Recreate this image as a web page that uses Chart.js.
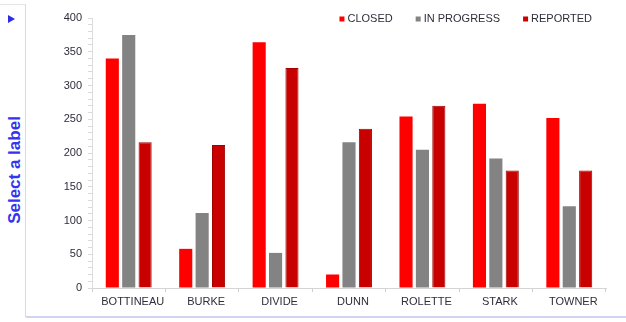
<!DOCTYPE html>
<html>
<head>
<meta charset="utf-8">
<script src="https://cdn.jsdelivr.net/npm/chart.js@4/dist/chart.umd.min.js"></script>
<style>
    html, body {
        margin: 0;
        padding: 0;
        background: #ffffff;
    }
    #wrap {
        position: relative;
        width: 626px;
        height: 322px;
        overflow: hidden;
        font-family: "Liberation Sans", Arial, sans-serif;
    }
    #side {
        position: absolute;
        left: 0;
        top: 4px;
        width: 25px;
        height: 312px;
        border-top: 1px solid #e6e6e6;
        border-right: 1px solid #d8d8e4;
    }
    #arrow {
        position: absolute;
        left: 8px;
        top: 10px;
        width: 0;
        height: 0;
        border-top: 4px solid transparent;
        border-bottom: 4px solid transparent;
        border-left: 7px solid #2b2be8;
    }
    #side-label {
        position: absolute;
        left: 15px;
        top: 165px;
        transform: translate(-50%, -50%) rotate(-90deg);
        white-space: nowrap;
        font-weight: bold;
        font-size: 17px;
        color: #3434f0;
    }
    #bottom-line {
        position: absolute;
        left: 26px;
        top: 316px;
        width: 600px;
        height: 0;
        border-top: 2px solid #d2d2f2;
    }
    #chart-box {
        position: absolute;
        left: 27px;
        top: 0;
        width: 599px;
        height: 315px;
    }
</style>
</head>
<body>
<div id="wrap">
    <div id="side">
        <div id="arrow"></div>
        <div id="side-label">Select a label</div>
    </div>
    <div id="bottom-line"></div>
    <div id="chart-box"><canvas id="statusChart" width="599" height="315"></canvas></div>
</div>
<script>
const counties = ['BOTTINEAU', 'BURKE', 'DIVIDE', 'DUNN', 'ROLETTE', 'STARK', 'TOWNER'];
const closedValues = [340, 58, 364, 20, 254, 273, 252];
const inProgressValues = [375, 111, 52, 216, 205, 192, 121];
const reportedValues = [216, 212, 326, 236, 270, 174, 174];
const yTickLabels = [0, 50, 100, 150, 200, 250, 300, 350, 400];

// small square legend drawn inside the plot, top right
const cornerLegend = {
    id: 'cornerLegend',
    afterDraw: function (chart) {
        const ctx = chart.ctx;
        const sets = chart.data.datasets;
        const box = 5;
        let x = chart.chartArea.right - 14;
        const y = chart.chartArea.top + 1;
        ctx.save();
        ctx.font = '11px "Liberation Sans", Arial, sans-serif';
        ctx.textBaseline = 'middle';
        ctx.textAlign = 'left';
        for (let i = sets.length - 1; i >= 0; i--) {
            const w = ctx.measureText(sets[i].label).width;
            x -= w;
            ctx.fillStyle = '#2e2e3c';
            ctx.fillText(sets[i].label, x, y);
            x -= 3 + box;
            ctx.fillStyle = sets[i].backgroundColor;
            ctx.fillRect(x, y - box / 2, box, box);
            x -= 23;
        }
        ctx.restore();
    }
};

document.addEventListener('DOMContentLoaded', function () {
    const chartCanvas = document.getElementById('statusChart');

    new Chart(chartCanvas, {
        type: 'bar',
        data: {
            labels: counties,
            datasets: [
                {
                    label: 'CLOSED',
                    data: closedValues,
                    backgroundColor: '#ff0000',
                    borderColor: '#f20000',
                    borderWidth: 0
                },
                {
                    label: 'IN PROGRESS',
                    data: inProgressValues,
                    backgroundColor: '#838383',
                    borderColor: '#8a8a8a',
                    borderWidth: 0
                },
                {
                    label: 'REPORTED',
                    data: reportedValues,
                    backgroundColor: '#c80000',
                    borderColor: '#a00000',
                    borderWidth: 1
                }
            ]
        },
        plugins: [cornerLegend],
        options: {
            responsive: false,
            animation: false,
            categoryPercentage: 0.67,
            barPercentage: 0.8,
            layout: {
                padding: { left: 25, right: 20, top: 18, bottom: 0 }
            },
            plugins: {
                legend: { display: false },
                tooltip: { enabled: false }
            },
            scales: {
                x: {
                    afterFit: function (scale) {
                        scale.height = 27;
                    },
                    border: { color: '#d4d4d4' },
                    grid: {
                        offset: true,
                        drawOnChartArea: false,
                        tickLength: 4,
                        color: '#cfcfcf'
                    },
                    ticks: {
                        color: '#2e2e3c',
                        padding: 3,
                        labelOffset: 4,
                        maxRotation: 0,
                        autoSkip: false,
                        font: { family: '"Liberation Sans", Arial, sans-serif', size: 11 }
                    }
                },
                y: {
                    min: 0,
                    max: 400,
                    afterFit: function (scale) {
                        scale.width = 40;
                    },
                    border: { color: '#dcdcdc' },
                    grid: {
                        drawOnChartArea: false,
                        tickLength: 4,
                        color: '#dadada'
                    },
                    ticks: {
                        stepSize: 10,
                        autoSkip: false,
                        padding: 6,
                        color: '#2e2e3c',
                        font: { family: '"Liberation Sans", Arial, sans-serif', size: 11 },
                        callback: function (value) {
                            return yTickLabels.includes(value) ? String(value) : '';
                        }
                    }
                }
            }
        }
    });
});
</script>
</body>
</html>
